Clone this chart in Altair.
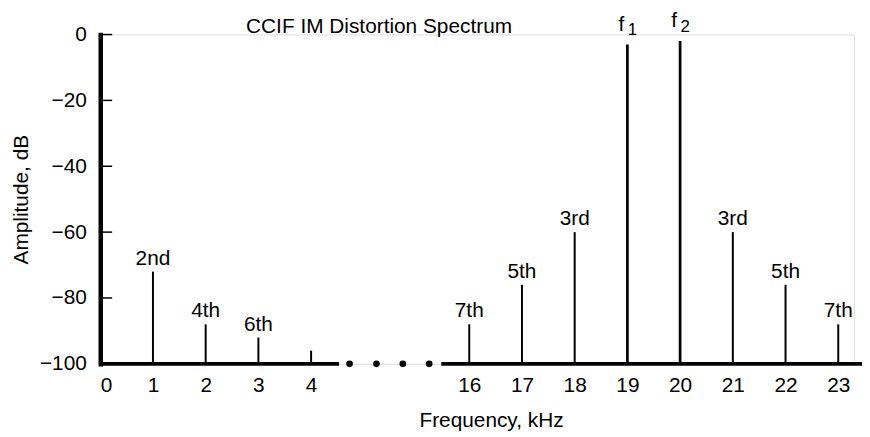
import altair as alt
import pandas as pd

# ---- data ----
freqs = [1, 2, 3, 4, 16, 17, 18, 19, 20, 21, 22, 23]          # kHz
amps = [-72, -88, -92, -96, -88, -76, -60, -3, -2, -60, -76, -88]  # dB
labels = ["2nd", "4th", "6th", "", "7th", "5th", "3rd", "f", "f", "3rd", "5th", "7th"]
subscripts = ["", "", "", "", "", "", "", "1", "2", "", "", ""]
kinds = ["h", "h", "h", "h", "h", "h", "h", "f", "f", "h", "h", "h"]

tick_freqs = [0, 1, 2, 3, 4, 16, 17, 18, 19, 20, 21, 22, 23]
y_ticks = [-100, -80, -60, -40, -20, 0]

TITLE = "CCIF IM Distortion Spectrum"

# broken x axis: 9 kHz are cut out between 4.5 and 15.5 kHz
GAP = 9
def to_pos(f):
    return f - GAP if f > 10 else f

axis_seg_start = [0, 15.47]   # kHz
axis_seg_end = [4.53, 23.45]  # kHz
break_dots = [4.73, 5.24, 5.74, 6.24]  # positions on the compressed axis

FONT = "Liberation Sans"
FS = 21

df = pd.DataFrame({
    "pos": [to_pos(f) for f in freqs],
    "amp": amps,
    "label": labels,
    "sub": subscripts,
    "kind": kinds,
})
df_axis = pd.DataFrame({
    "pos": [to_pos(f) for f in axis_seg_start],
    "pos2": [to_pos(f) for f in axis_seg_end],
    "amp": [-100, -100],
})
df_dots = pd.DataFrame({"pos": break_dots, "amp": [-100] * len(break_dots)})
df_yt = pd.DataFrame({"amp": y_ticks})
df_title = pd.DataFrame({"t": [TITLE]})

x_enc = alt.X(
    "pos:Q",
    scale=alt.Scale(domain=[0, 14.3], nice=False, zero=False),
    axis=alt.Axis(
        values=[to_pos(f) for f in tick_freqs],
        labelExpr=f"datum.value > 4.5 ? datum.value + {GAP} : datum.value",
        title="Frequency, kHz",
        domain=False, ticks=False, grid=False,
        labelFont=FONT, labelFontSize=FS, labelColor="black", labelPadding=11,
        titleFont=FONT, titleFontSize=FS, titleFontWeight="normal", titleColor="black",
        titleX=394, titleY=63, titleBaseline="alphabetic", titleAlign="center",
    ),
)
y_enc = alt.Y(
    "amp:Q",
    scale=alt.Scale(domain=[-100, 0], nice=False),
    axis=alt.Axis(
        values=y_ticks,
        title="Amplitude, dB",
        ticks=False, grid=False,
        domainWidth=4.5, domainColor="black", domainCap="square",
        labelFont=FONT, labelFontSize=FS, labelColor="black", labelPadding=14,
        titleFont=FONT, titleFontSize=FS, titleFontWeight="normal", titleColor="black",
        titleX=-73, titleY=166, titleAngle=270, titleBaseline="alphabetic", titleAlign="center",
    ),
)

stems = alt.Chart(df).mark_rule(color="black").encode(
    x=x_enc,
    y=y_enc,
    y2=alt.datum(-100),
    strokeWidth=alt.condition("datum.kind == 'f'", alt.value(2.7), alt.value(2)),
)

harm_labels = alt.Chart(df).transform_filter("datum.kind == 'h'").mark_text(
    dy=-7, baseline="alphabetic", align="center", font=FONT, fontSize=FS, color="black"
).encode(x=x_enc, y=y_enc, text="label:N")

f_labels = alt.Chart(df).transform_filter("datum.kind == 'f'").mark_text(
    dx=-6, dy=-14, baseline="alphabetic", align="center", font=FONT, fontSize=FS, color="black"
).encode(x=x_enc, y=y_enc, text="label:N")

f_subs = alt.Chart(df).transform_filter("datum.kind == 'f'").mark_text(
    dx=5, dy=-9, baseline="alphabetic", align="center", font=FONT, fontSize=17, color="black"
).encode(x=x_enc, y=y_enc, text="sub:N")

baseline = alt.Chart(df_axis).mark_rule(color="black", strokeWidth=3.8).encode(
    x=x_enc, x2="pos2:Q", y=y_enc
)

dots = alt.Chart(df_dots).mark_circle(color="black", opacity=1, size=45).encode(
    x=x_enc, y=y_enc
)

yticks = alt.Chart(df_yt).mark_rule(color="black", strokeWidth=1.5).encode(
    y=y_enc, x=alt.value(0), x2=alt.value(12)
)

title = alt.Chart(df_title).mark_text(
    align="left", baseline="alphabetic", font=FONT, fontSize=21, color="black"
).encode(x=alt.value(147), y=alt.value(-2), text="t:N")

chart = alt.layer(
    baseline, dots, yticks, stems, harm_labels, f_labels, f_subs, title
).properties(
    width=760,
    height=332,
    autosize=alt.AutoSizeParams(type="none"),
    padding={"left": 93, "top": 25, "right": 8, "bottom": 70},
).configure_view(stroke=None).configure(background="white")

chart.save("out.html", embed_options={"renderer": "svg", "actions": False})
